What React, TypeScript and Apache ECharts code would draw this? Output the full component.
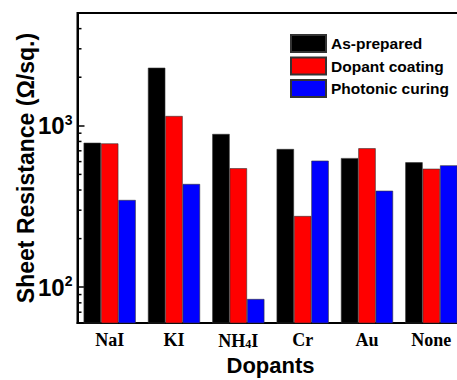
import React, { useEffect, useRef } from "react";
import * as echarts from "echarts";

const categories = ["NaI", "KI", "NH4I", "Cr", "Au", "None"];
const seriesNames = ["As-prepared", "Dopant coating", "Photonic curing"];
const asPrepared = [785, 2290, 890, 718, 631, 594];
const dopantCoating = [778, 1150, 546, 276, 726, 542];
const photonicCuring = [347, 436, 84.5, 608, 396, 569];
const seriesColors = ["#000000", "#ff0000", "#0000ff"];
const minorTicks = [60, 70, 80, 90, 200, 300, 400, 500, 600, 700, 800, 900, 2000, 3000, 4000, 5000];

export default function App() {
  const ref = useRef<HTMLDivElement>(null);
  useEffect(() => {
    if (!ref.current) return;
    const chart = echarts.init(ref.current, null, { renderer: "svg" });
    const sans = "'Liberation Sans', Arial, sans-serif";
    const serif = "'Liberation Serif', 'Times New Roman', serif";
    const values = [asPrepared, dopantCoating, photonicCuring];
    chart.setOption({
      animation: false,
      grid: {
        left: 77.5,
        right: -6.5,
        top: 13,
        bottom: 57,
        outerBoundsMode: "none",
        containLabel: false,
        show: true,
        borderColor: "#000",
        borderWidth: 2,
        backgroundColor: "transparent",
      },
      legend: {
        orient: "vertical",
        left: 290,
        top: 34,
        padding: 0,
        itemWidth: 35,
        itemHeight: 17,
        itemGap: 3.5,
        icon: "rect",
        data: seriesNames,
        textStyle: { fontFamily: sans, fontWeight: "bold", fontSize: 15.5, color: "#000" },
      },
      xAxis: {
        type: "category",
        data: categories,
        name: "Dopants",
        nameLocation: "middle",
        nameGap: 31,
        nameMoveOverlap: false,
        nameTextStyle: { fontFamily: sans, fontWeight: "bold", fontSize: 22, color: "#000" },
        axisLine: { lineStyle: { color: "#000", width: 2 } },
        axisTick: { inside: true, length: 4, alignWithLabel: true, lineStyle: { color: "#000", width: 1.5 } },
        axisLabel: {
          interval: 0,
          margin: 8,
          fontFamily: serif,
          fontWeight: "bold",
          fontSize: 18,
          color: "#000",
          formatter: (v: string) => (v === "NH4I" ? "{n|NH}{s|4}{n|I}" : "{n|" + v + "}"),
          rich: {
            n: { fontFamily: serif, fontWeight: "bold", fontSize: 18, color: "#000" },
            s: { fontFamily: serif, fontWeight: "bold", fontSize: 12, color: "#000", padding: [7, 0, 0, 0] },
          },
        },
      },
      yAxis: {
        type: "log",
        logBase: 10,
        min: 60,
        max: 5000,
        splitLine: { show: false },
        name: "Sheet Resistance (Ω/sq.)",
        nameLocation: "middle",
        nameGap: 40,
        nameMoveOverlap: false,
        nameTextStyle: { fontFamily: sans, fontWeight: "bold", fontSize: 23, color: "#000" },
        axisLine: { show: true, lineStyle: { color: "#000", width: 2 } },
        axisTick: { show: true, inside: true, length: 7, lineStyle: { color: "#000", width: 1.5 } },
        axisLabel: {
          margin: 5,
          showMinLabel: false,
          showMaxLabel: false,
          formatter: (v: number) => {
            const e = Math.log10(v);
            if (Math.abs(e - Math.round(e)) > 1e-6) return "";
            return "{b|10}{s|" + Math.round(e) + "}";
          },
          rich: {
            b: { fontFamily: sans, fontWeight: "bold", fontSize: 24, color: "#000" },
            s: { fontFamily: sans, fontWeight: "bold", fontSize: 14, color: "#000", padding: [0, 0, 12, 0] },
          },
        },
      },
      series: [
        ...seriesNames.map((name, i) => ({
          name,
          type: "bar",
          data: values[i],
          barGap: "0%",
          barCategoryGap: "19%",
          itemStyle: { color: seriesColors[i], borderColor: "#333", borderWidth: 0.6 },
        })),
        {
          name: "minorTicks",
          type: "custom",
          silent: true,
          clip: false,
          z: 10,
          data: minorTicks.map((v) => [0, v]),
          encode: { x: 0, y: 1 },
          renderItem: (params: any, api: any) => {
            const y = api.coord([0, api.value(1)])[1];
            const x0 = params.coordSys.x;
            return {
              type: "line",
              shape: { x1: x0, y1: y, x2: x0 + 4, y2: y },
              style: { stroke: "#000", lineWidth: 1.5 },
            };
          },
        },
      ],
    });
    return () => chart.dispose();
  }, []);
  return <div ref={ref} style={{ position: "absolute", left: 0, top: 0, width: 457, height: 380 }} />;
}
